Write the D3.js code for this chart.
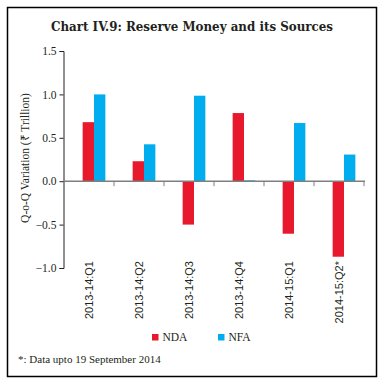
<!DOCTYPE html>
<html><head><meta charset="utf-8">
<script src="https://cdn.jsdelivr.net/npm/d3@7"></script>
<style>body{margin:0;background:#fff}svg{display:block}</style>
</head><body>
<script>
const categories = ["2013-14:Q1","2013-14:Q2","2013-14:Q3","2013-14:Q4","2014-15:Q1","2014-15:Q2*"];
const seriesNames = ["NDA","NFA"];
const nda = [0.68, 0.23, -0.50, 0.785, -0.605, -0.87];
const nfa = [1.00, 0.425, 0.985, 0.01, 0.67, 0.307];
const yTicks = [-1.0, -0.5, 0.0, 0.5, 1.0, 1.5];
const colors = ["#e8192c", "#00aeef"];
const title = "Chart IV.9: Reserve Money and its Sources";
const yTitle = "Q-o-Q Variation (\u20B9 Trillion)";
const footnote = "*: Data upto 19 September 2014";

const W = 383, H = 386;
const svg = d3.select("body").append("svg").attr("width", W).attr("height", H);
svg.append("rect").attr("x",7.5).attr("y",7.5).attr("width",369).attr("height",369)
  .attr("fill","#fff").attr("stroke","#000").attr("stroke-width",1.5);

const t = svg.append("text").attr("x",192).attr("y",31).attr("text-anchor","middle")
  .attr("font-family","DejaVu Serif Condensed, DejaVu Serif").attr("font-weight","bold").attr("font-size",13.2)
  .attr("fill","#231f20").text(title);
const tl = t.node().getComputedTextLength();
if (tl > 0) t.attr("textLength", 282).attr("lengthAdjust","spacingAndGlyphs");

const y = d3.scaleLinear().domain([-1, 1.5]).range([268, 51]);
const x = d3.scaleBand().domain(categories).range([64, 364]);
const x1 = d3.scaleBand().domain(seriesNames).range([x.bandwidth()*0.373, x.bandwidth()*0.827]);

// bars
const data = categories.map((c,i)=>({c, vals:[nda[i], nfa[i]]}));
const g = svg.append("g");
data.forEach(d=>{
  d.vals.forEach((v,j)=>{
    g.append("rect")
      .attr("x", x(d.c) + x1(seriesNames[j]))
      .attr("width", x1.bandwidth())
      .attr("y", y(Math.max(0,v)))
      .attr("height", Math.abs(y(v)-y(0)))
      .attr("fill", colors[j]);
  });
});

// y axis
const yAxis = svg.append("g").attr("transform","translate(63.5,0)")
  .call(d3.axisLeft(y).tickValues(yTicks).tickFormat(d3.format(".1f")).tickSize(4).tickPadding(3));
yAxis.select(".domain").attr("stroke","#231f20");
yAxis.selectAll(".tick line").attr("stroke","#231f20");
yAxis.selectAll("text").attr("font-family","Liberation Serif").attr("font-size",11.5).attr("fill","#231f20");

// x axis at zero
const xAxisG = svg.append("g").attr("transform",`translate(0,${y(0)})`);
xAxisG.append("line").attr("x1",64).attr("x2",365).attr("y1",0).attr("y2",0)
  .attr("stroke","#7f7f7f").attr("stroke-width",1.6);
xAxisG.selectAll(".xt").data(categories).enter().append("line")
  .attr("x1",d=>x(d)+x.bandwidth()).attr("x2",d=>x(d)+x.bandwidth())
  .attr("y1",0).attr("y2",5).attr("stroke","#7f7f7f").attr("stroke-width",1);

// x labels
svg.selectAll(".xl").data(categories).enter().append("text")
  .attr("transform", d=>`translate(${x(d)+x.bandwidth()/2+4},261) rotate(-90)`)
  .attr("text-anchor","end")
  .attr("font-family","Liberation Sans").attr("font-size",11)
  .attr("fill","#231f20").text(d=>d);

// y title
svg.append("text").attr("transform","translate(29,158) rotate(-90)")
  .attr("text-anchor","middle").attr("font-family","Liberation Serif").attr("font-size",11.5)
  .attr("fill","#231f20").text(yTitle);

// legend
const legX = [152, 218];
seriesNames.forEach((s,j)=>{
  svg.append("rect").attr("x",legX[j]).attr("y",334).attr("width",6.5).attr("height",6.5).attr("fill",colors[j]);
  svg.append("text").attr("x",legX[j]+10.5).attr("y",340.5)
    .attr("font-family","Liberation Serif").attr("font-size",11.5).attr("fill","#231f20").text(s);
});

svg.append("text").attr("x",18).attr("y",363).attr("font-family","Liberation Serif")
  .attr("font-size",11).attr("fill","#231f20").text(footnote);
</script>
</body></html>
